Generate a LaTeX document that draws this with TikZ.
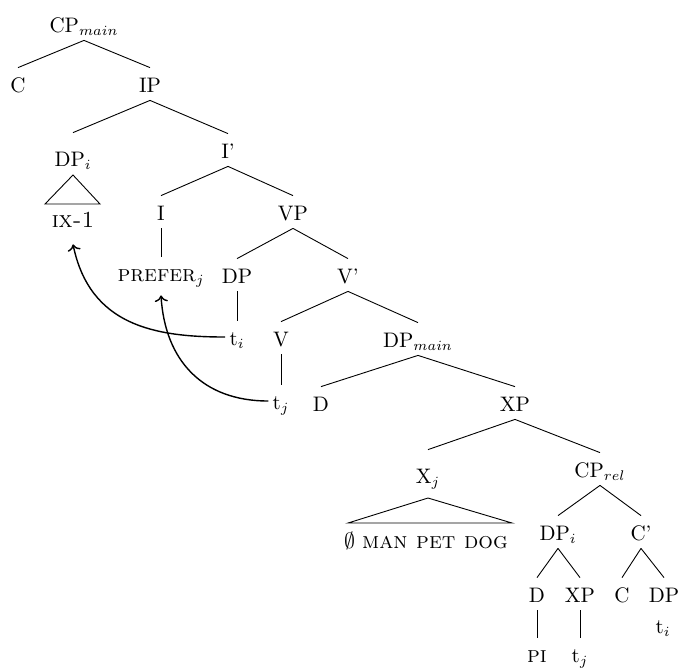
\documentclass[tikz,border=0pt]{standalone}
\usetikzlibrary{arrows.meta}
\newcommand{\mysc}[1]{{\fontsize{11.5}{13}\selectfont\textsc{#1}}}
\begin{document}
\begin{tikzpicture}[x=0.5pt,y=-0.5pt,
  n/.style={inner xsep=2pt, inner ysep=4pt, text height=8pt, text depth=0pt, anchor=base, font=\fontsize{10.5}{12}\selectfont},
  roof/.style={n, text height=12.5pt},
  edge/.style={line width=0.45pt},
  mv/.style={line width=0.7pt, ->}]
\useasboundingbox (0,0) rectangle (678,670);
% nodes
\node[n] (cp) at (84,32) {CP$_{main}$};
\node[n] (c) at (18,92) {C};
\node[n] (ip) at (150,92) {IP};
\node[roof] (dpi) at (73,166) {DP$_i$};
\node[n] (ibar) at (228,158) {I'};
\node[n] (ix) at (73,227) {\mysc{ix-1}};
\node[n] (i) at (161,220) {I};
\node[n] (vp) at (293,220) {VP};
\node[n] (prefer) at (161,281) {\mysc{prefer}$_j$};
\node[n] (dp) at (237,283) {DP};
\node[n] (vbar) at (348,283) {V'};
\node[n] (ti) at (237,345) {t$_i$};
\node[n] (v) at (281,346) {V};
\node[n] (dpm) at (418,347) {DP$_{main}$};
\node[n] (tj) at (281,409) {t$_j$};
\node[n] (d) at (321,411) {D};
\node[n] (xp) at (515,411) {XP};
\node[roof] (xj) at (428,483) {X$_j$};
\node[n] (cprel) at (600,477) {CP$_{rel}$};
\node[n] (mpd) at (426,548) {$\emptyset$ \mysc{man pet dog}};
\node[n] (dpi2) at (558,540) {DP$_i$};
\node[n] (cbar) at (641,540) {C'};
\node[n] (d2) at (537,602) {D};
\node[n] (xp2) at (580,602) {XP};
\node[n] (c2) at (622,602) {C};
\node[n] (dp2) at (664,602) {DP};
\node[n] (pi) at (537,662) {\mysc{pi}};
\node[n] (tj2) at (580,662) {t$_j$};
\node[n] (ti2) at (663,633) {t$_i$};
% tree edges
\draw[edge] (cp.south) -- (c.north);
\draw[edge] (cp.south) -- (ip.north);
\draw[edge] (ip.south) -- (dpi.north);
\draw[edge] (ip.south) -- (ibar.north);
\draw[edge] (ibar.south) -- (i.north);
\draw[edge] (ibar.south) -- (vp.north);
\draw[edge] (i.south) -- (prefer.north);
\draw[edge] (vp.south) -- (dp.north);
\draw[edge] (vp.south) -- (vbar.north);
\draw[edge] (dp.south) -- (ti.north);
\draw[edge] (vbar.south) -- (v.north);
\draw[edge] (vbar.south) -- (dpm.north);
\draw[edge] (v.south) -- (tj.north);
\draw[edge] (dpm.south) -- (d.north);
\draw[edge] (dpm.south) -- (xp.north);
\draw[edge] (xp.south) -- (xj.north);
\draw[edge] (xp.south) -- (cprel.north);
\draw[edge] (cprel.south) -- (dpi2.north);
\draw[edge] (cprel.south) -- (cbar.north);
\draw[edge] (dpi2.south) -- (d2.north);
\draw[edge] (dpi2.south) -- (xp2.north);
\draw[edge] (cbar.south) -- (c2.north);
\draw[edge] (cbar.south) -- (dp2.north);
\draw[edge] (d2.south) -- (pi.north);
\draw[edge] (xp2.south) -- (tj2.north);
% roofs
\draw[edge] (73,175) -- (45,204) -- (100,204) -- cycle;
\draw[edge] (428,498) -- (348,523) -- (512,523) -- cycle;
% movement arrows
\draw[mv] (ti.west) .. controls +(-71,0) and +(17,81) .. ([yshift=-4.5pt]ix.south);
\draw[mv] (tj.west) .. controls +(-66,0) and +(4,65) .. ([yshift=-3pt]prefer.south);
\end{tikzpicture}
\end{document}
